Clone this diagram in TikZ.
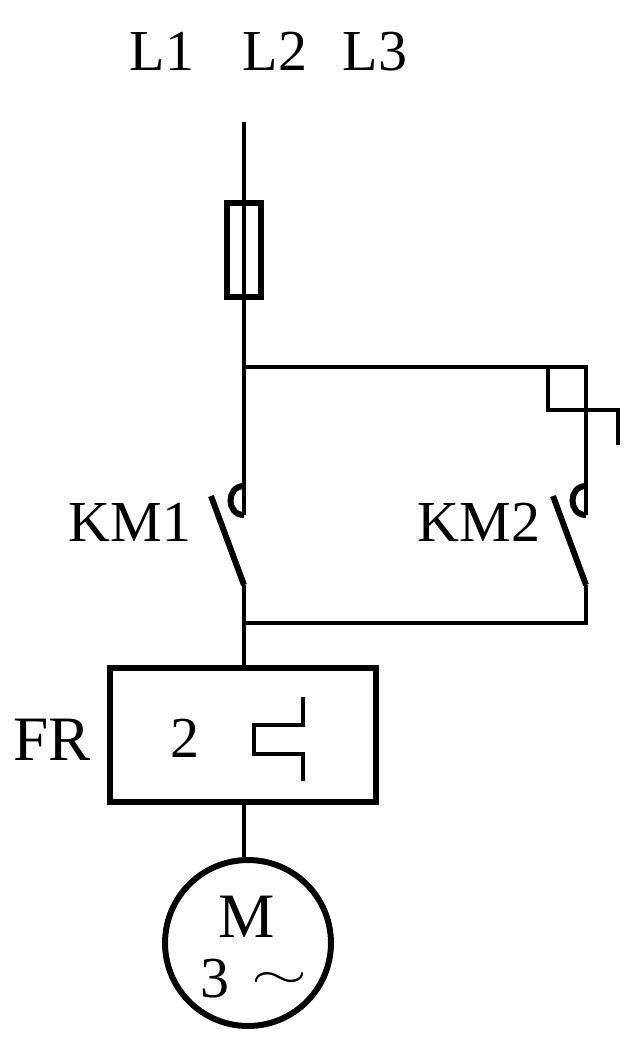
\documentclass[tikz,border=0pt]{standalone}
\usepackage{fontspec}
\setmainfont{Liberation Serif}
\tikzset{wire/.style={line width=2.5pt}}
\tikzset{blade/.style={line width=3.4pt}}
\tikzset{frame/.style={draw,line width=3.3pt,inner sep=0pt,rectangle}}
\tikzset{tag/.style={anchor=base,inner sep=0pt,font=\fontsize{33}{33}\selectfont}}
\tikzset{bigtag/.style={tag,font=\fontsize{36}{36}\selectfont}}
\begin{document}
\begin{tikzpicture}[x=0.02cm,y=-0.02cm]
    \useasboundingbox (0,0) rectangle (628,1038);
    \foreach \i/\x in {1/162,2/275,3/375} {
        \node [tag] (L\i) at (\x,70) {L\i};
    }
    \node [frame,line width=3.8pt,minimum width=0.68cm,minimum height=1.88cm] (fuse) at (244,250) {};
    \node [frame,minimum width=5.32cm,minimum height=2.68cm] (relay) at (243,735) {};
    \node [circle,draw,line width=3.4pt,inner sep=0pt,minimum size=3.32cm] (motor) at (248,943) {};
    \coordinate (top) at (244,122);
    \coordinate (split) at (244,367);
    \coordinate (corner) at (586,367);
    \coordinate (arcA) at (244,486);
    \coordinate (endA) at (244,515);
    \coordinate (arcB) at (586,486);
    \coordinate (endB) at (586,515);
    \coordinate (bladeA) at (211,496);
    \coordinate (pivotA) at (244,585);
    \coordinate (bladeB) at (553,496);
    \coordinate (pivotB) at (586,585);
    \coordinate (merge) at (244,623);
    \coordinate (return) at (586,623);
    \draw [wire] (top) -- (fuse.north);
    \draw [wire] (fuse.north) -- (fuse.south);
    \draw [wire] (fuse.south) -- (split) -- (endA);
    \draw [wire] (split) -- (corner) -- (endB);
    \draw [blade] (arcA) to[out=180,in=180,distance=0.36cm] (endA);
    \draw [blade] (arcB) to[out=180,in=180,distance=0.36cm] (endB);
    \draw [blade] (bladeA) -- (pivotA);
    \draw [blade] (bladeB) -- (pivotB);
    \draw [wire] (pivotA) -- (merge) -- (relay.north -| merge);
    \draw [wire] (pivotB) -- (return) -- (merge);
    \draw [wire] (relay.south -| merge) -- (motor.north -| merge);
    % thermal contact on the bypass
    \draw [wire,line width=2.2pt] (548,367) -- (548,410) -- (618,410) -- (618,445);
    \draw [wire,line width=2.2pt] (303,697) -- (303,725) -- (254,725) -- (254,754) -- (303,754) -- (303,781);
    \node [tag] (km1) at (130,541) {KM1};
    \node [tag] (km2) at (479,541) {KM2};
    \node [bigtag] (fr) at (52,760) {FR};
    \node [tag] (two) at (185,757) {2};
    \node [bigtag] (m) at (247,937) {M};
    \node [tag] (three) at (215,997) {3};
    \node [inner sep=0pt,font=\fontsize{36}{36}\selectfont] (ac) at (280,988) {\scalebox{1.65}[1]{\smash{$\sim$}}};
\end{tikzpicture}
\end{document}
